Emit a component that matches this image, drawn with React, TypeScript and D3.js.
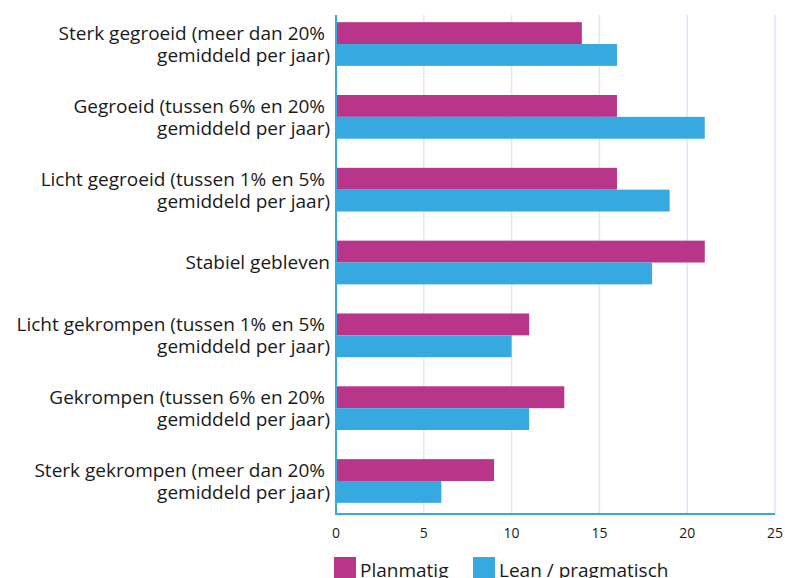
import React, { useEffect, useRef } from "react";
import * as d3 from "d3";

const categories = [
  ["Sterk gegroeid (meer dan 20%", "gemiddeld per jaar)"],
  ["Gegroeid (tussen 6% en 20%", "gemiddeld per jaar)"],
  ["Licht gegroeid (tussen 1% en 5%", "gemiddeld per jaar)"],
  ["Stabiel gebleven"],
  ["Licht gekrompen (tussen 1% en 5%", "gemiddeld per jaar)"],
  ["Gekrompen (tussen 6% en 20%", "gemiddeld per jaar)"],
  ["Sterk gekrompen (meer dan 20%", "gemiddeld per jaar)"],
];
const planmatig = [14, 16, 16, 21, 11, 13, 9];
const lean = [16, 21, 19, 18, 10, 11, 6];
const seriesNames = ["Planmatig", "Lean / pragmatisch"];
const ticks = [0, 5, 10, 15, 20, 25];

const MAGENTA = "#b8358a";
const BLUE = "#36a9e1";
const FONT = "'Open Sans', sans-serif";

export default function App() {
  const ref = useRef<SVGSVGElement>(null);

  useEffect(() => {
    const svg = d3.select(ref.current);
    svg.selectAll("*").remove();

    const x = d3.scaleLinear().domain([0, 25]).range([336, 775]);
    const y = d3
      .scaleBand()
      .domain(categories.map((_, i) => String(i)))
      .range([7.6, 517.4])
      .paddingInner(0.4)
      .paddingOuter(0.2);
    const sub = d3
      .scaleBand()
      .domain(["0", "1"])
      .range([0, y.bandwidth()]);

    // grid
    svg
      .append("g")
      .selectAll("line")
      .data(ticks.slice(1))
      .enter()
      .append("line")
      .attr("x1", (d) => x(d))
      .attr("x2", (d) => x(d))
      .attr("y1", 15)
      .attr("y2", 514)
      .attr("stroke", "#dbe8f6")
      .attr("stroke-width", 1.5);

    // bars
    const groups = svg
      .append("g")
      .selectAll("g")
      .data(categories)
      .enter()
      .append("g")
      .attr("transform", (_, i) => `translate(0, ${y(String(i))})`);

    [planmatig, lean].forEach((vals, s) => {
      groups
        .append("rect")
        .attr("x", x(0))
        .attr("y", sub(String(s))!)
        .attr("width", (_, i) => x(vals[i]) - x(0))
        .attr("height", sub.bandwidth())
        .attr("fill", s === 0 ? MAGENTA : BLUE);
    });

    // category labels
    groups
      .append("text")
      .attr("text-anchor", "end")
      .attr("font-family", FONT)
      .attr("font-size", 19)
      .attr("fill", "#1a1a1a")
      .each(function (d) {
        const t = d3.select(this);
        const mid = y.bandwidth() / 2;
        if (d.length === 1) {
          t.append("tspan").attr("x", 330).attr("y", mid + 7).text(d[0]);
        } else {
          t.append("tspan")
            .attr("x", 330)
            .attr("y", mid - 4)
            .text(d[0] + "\u00a0");
          t.append("tspan").attr("x", 330).attr("y", mid + 18).text(d[1]);
        }
      });

    // axes lines
    svg
      .append("line")
      .attr("x1", x(0))
      .attr("x2", x(0))
      .attr("y1", 15)
      .attr("y2", 515)
      .attr("stroke", BLUE)
      .attr("stroke-width", 2);
    svg
      .append("line")
      .attr("x1", x(0) - 1)
      .attr("x2", x(25))
      .attr("y1", 514)
      .attr("y2", 514)
      .attr("stroke", BLUE)
      .attr("stroke-width", 2);

    // tick labels
    svg
      .append("g")
      .selectAll("text")
      .data(ticks)
      .enter()
      .append("text")
      .attr("x", (d) => x(d))
      .attr("y", 538)
      .attr("text-anchor", "middle")
      .attr("font-family", FONT)
      .attr("font-size", 14)
      .attr("fill", "#1a1a1a")
      .text((d) => d);

    // legend
    const legendX = [334, 473];
    const legend = svg
      .append("g")
      .selectAll("g")
      .data(seriesNames)
      .enter()
      .append("g")
      .attr("transform", (_, i) => `translate(${legendX[i]}, 557)`);
    legend
      .append("rect")
      .attr("width", 22)
      .attr("height", 22)
      .attr("fill", (_, i) => (i === 0 ? MAGENTA : BLUE));
    legend
      .append("text")
      .attr("x", 26)
      .attr("y", 20)
      .attr("font-family", FONT)
      .attr("font-size", 19)
      .attr("fill", "#1a1a1a")
      .text((d) => d);
  });

  return (
    <svg
      ref={ref}
      width={785}
      height={578}
      style={{ position: "absolute", left: 0, top: 0, background: "#fff" }}
    />
  );
}
